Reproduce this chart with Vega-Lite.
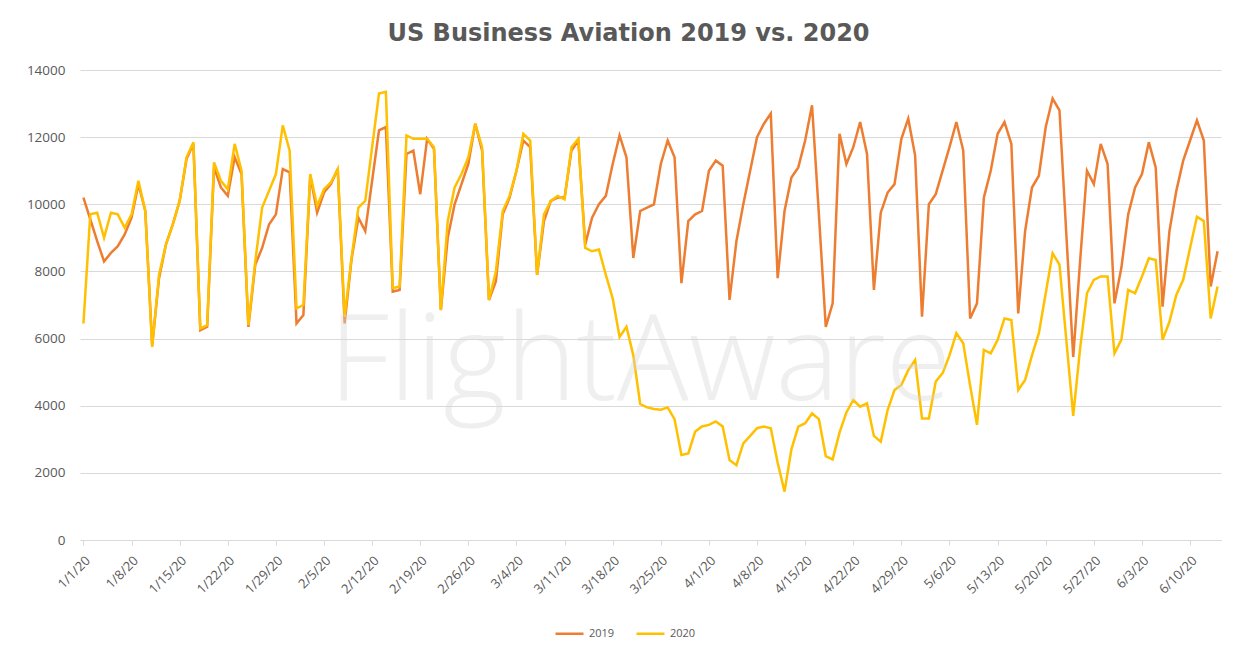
{
"$schema": "https://vega.github.io/schema/vega-lite/v6.json",
"width": 1141, "height": 470,
"autosize": {"type": "none"},
"padding": {"left": 80, "top": 70, "right": 13, "bottom": 115},
"background": "white",
"title": {"text": "US Business Aviation 2019 vs. 2020", "font": "DejaVu Sans", "fontSize": 24, "fontWeight": "bold", "color": "#595959", "anchor": "middle", "dx": -22, "offset": 17},
"config": {"view": {"stroke": null}, "font": "Open Sans"},
"layer": [
{"data": {"values": [
{"d":"2020-01-01","s":"2019","v":10200},{"d":"2020-01-02","s":"2019","v":9550},{"d":"2020-01-03","s":"2019","v":8900},{"d":"2020-01-04","s":"2019","v":8300},{"d":"2020-01-05","s":"2019","v":8550},{"d":"2020-01-06","s":"2019","v":8750},{"d":"2020-01-07","s":"2019","v":9100},{"d":"2020-01-08","s":"2019","v":9600},{"d":"2020-01-09","s":"2019","v":10600},{"d":"2020-01-10","s":"2019","v":9800},{"d":"2020-01-11","s":"2019","v":5800},{"d":"2020-01-12","s":"2019","v":7800},{"d":"2020-01-13","s":"2019","v":8800},{"d":"2020-01-14","s":"2019","v":9400},{"d":"2020-01-15","s":"2019","v":10100},{"d":"2020-01-16","s":"2019","v":11350},{"d":"2020-01-17","s":"2019","v":11800},{"d":"2020-01-18","s":"2019","v":6250},{"d":"2020-01-19","s":"2019","v":6350},{"d":"2020-01-20","s":"2019","v":11100},{"d":"2020-01-21","s":"2019","v":10500},{"d":"2020-01-22","s":"2019","v":10250},{"d":"2020-01-23","s":"2019","v":11400},{"d":"2020-01-24","s":"2019","v":10900},{"d":"2020-01-25","s":"2019","v":6350},{"d":"2020-01-26","s":"2019","v":8200},{"d":"2020-01-27","s":"2019","v":8700},{"d":"2020-01-28","s":"2019","v":9400},{"d":"2020-01-29","s":"2019","v":9700},{"d":"2020-01-30","s":"2019","v":11050},{"d":"2020-01-31","s":"2019","v":10950},
{"d":"2020-02-01","s":"2019","v":6450},{"d":"2020-02-02","s":"2019","v":6700},{"d":"2020-02-03","s":"2019","v":10850},{"d":"2020-02-04","s":"2019","v":9750},{"d":"2020-02-05","s":"2019","v":10350},{"d":"2020-02-06","s":"2019","v":10600},{"d":"2020-02-07","s":"2019","v":11050},{"d":"2020-02-08","s":"2019","v":6450},{"d":"2020-02-09","s":"2019","v":8350},{"d":"2020-02-10","s":"2019","v":9600},{"d":"2020-02-11","s":"2019","v":9200},{"d":"2020-02-12","s":"2019","v":10700},{"d":"2020-02-13","s":"2019","v":12200},{"d":"2020-02-14","s":"2019","v":12300},{"d":"2020-02-15","s":"2019","v":7400},{"d":"2020-02-16","s":"2019","v":7450},{"d":"2020-02-17","s":"2019","v":11500},{"d":"2020-02-18","s":"2019","v":11600},{"d":"2020-02-19","s":"2019","v":10300},{"d":"2020-02-20","s":"2019","v":11950},{"d":"2020-02-21","s":"2019","v":11650},{"d":"2020-02-22","s":"2019","v":6850},{"d":"2020-02-23","s":"2019","v":9000},{"d":"2020-02-24","s":"2019","v":10000},{"d":"2020-02-25","s":"2019","v":10600},{"d":"2020-02-26","s":"2019","v":11200},{"d":"2020-02-27","s":"2019","v":12400},{"d":"2020-02-28","s":"2019","v":11600},{"d":"2020-02-29","s":"2019","v":7150},
{"d":"2020-03-01","s":"2019","v":7700},{"d":"2020-03-02","s":"2019","v":9700},{"d":"2020-03-03","s":"2019","v":10200},{"d":"2020-03-04","s":"2019","v":11000},{"d":"2020-03-05","s":"2019","v":11900},{"d":"2020-03-06","s":"2019","v":11700},{"d":"2020-03-07","s":"2019","v":7900},{"d":"2020-03-08","s":"2019","v":9500},{"d":"2020-03-09","s":"2019","v":10100},{"d":"2020-03-10","s":"2019","v":10200},{"d":"2020-03-11","s":"2019","v":10200},{"d":"2020-03-12","s":"2019","v":11600},{"d":"2020-03-13","s":"2019","v":11900},{"d":"2020-03-14","s":"2019","v":8800},{"d":"2020-03-15","s":"2019","v":9600},{"d":"2020-03-16","s":"2019","v":10000},{"d":"2020-03-17","s":"2019","v":10250},{"d":"2020-03-18","s":"2019","v":11200},{"d":"2020-03-19","s":"2019","v":12050},{"d":"2020-03-20","s":"2019","v":11400},{"d":"2020-03-21","s":"2019","v":8400},{"d":"2020-03-22","s":"2019","v":9800},{"d":"2020-03-23","s":"2019","v":9900},{"d":"2020-03-24","s":"2019","v":10000},{"d":"2020-03-25","s":"2019","v":11200},{"d":"2020-03-26","s":"2019","v":11900},{"d":"2020-03-27","s":"2019","v":11400},{"d":"2020-03-28","s":"2019","v":7650},{"d":"2020-03-29","s":"2019","v":9500},{"d":"2020-03-30","s":"2019","v":9700},{"d":"2020-03-31","s":"2019","v":9800},
{"d":"2020-04-01","s":"2019","v":11000},{"d":"2020-04-02","s":"2019","v":11300},{"d":"2020-04-03","s":"2019","v":11150},{"d":"2020-04-04","s":"2019","v":7150},{"d":"2020-04-05","s":"2019","v":8900},{"d":"2020-04-06","s":"2019","v":10000},{"d":"2020-04-07","s":"2019","v":11000},{"d":"2020-04-08","s":"2019","v":12000},{"d":"2020-04-09","s":"2019","v":12400},{"d":"2020-04-10","s":"2019","v":12700},{"d":"2020-04-11","s":"2019","v":7800},{"d":"2020-04-12","s":"2019","v":9800},{"d":"2020-04-13","s":"2019","v":10800},{"d":"2020-04-14","s":"2019","v":11100},{"d":"2020-04-15","s":"2019","v":11900},{"d":"2020-04-16","s":"2019","v":12950},{"d":"2020-04-17","s":"2019","v":9700},{"d":"2020-04-18","s":"2019","v":6350},{"d":"2020-04-19","s":"2019","v":7050},{"d":"2020-04-20","s":"2019","v":12100},{"d":"2020-04-21","s":"2019","v":11200},{"d":"2020-04-22","s":"2019","v":11700},{"d":"2020-04-23","s":"2019","v":12450},{"d":"2020-04-24","s":"2019","v":11500},{"d":"2020-04-25","s":"2019","v":7450},{"d":"2020-04-26","s":"2019","v":9750},{"d":"2020-04-27","s":"2019","v":10350},{"d":"2020-04-28","s":"2019","v":10600},{"d":"2020-04-29","s":"2019","v":11950},{"d":"2020-04-30","s":"2019","v":12550},
{"d":"2020-05-01","s":"2019","v":11450},{"d":"2020-05-02","s":"2019","v":6650},{"d":"2020-05-03","s":"2019","v":10000},{"d":"2020-05-04","s":"2019","v":10300},{"d":"2020-05-05","s":"2019","v":11000},{"d":"2020-05-06","s":"2019","v":11700},{"d":"2020-05-07","s":"2019","v":12450},{"d":"2020-05-08","s":"2019","v":11600},{"d":"2020-05-09","s":"2019","v":6600},{"d":"2020-05-10","s":"2019","v":7050},{"d":"2020-05-11","s":"2019","v":10200},{"d":"2020-05-12","s":"2019","v":11000},{"d":"2020-05-13","s":"2019","v":12100},{"d":"2020-05-14","s":"2019","v":12450},{"d":"2020-05-15","s":"2019","v":11800},{"d":"2020-05-16","s":"2019","v":6750},{"d":"2020-05-17","s":"2019","v":9200},{"d":"2020-05-18","s":"2019","v":10500},{"d":"2020-05-19","s":"2019","v":10850},{"d":"2020-05-20","s":"2019","v":12300},{"d":"2020-05-21","s":"2019","v":13150},{"d":"2020-05-22","s":"2019","v":12800},{"d":"2020-05-23","s":"2019","v":9100},{"d":"2020-05-24","s":"2019","v":5450},{"d":"2020-05-25","s":"2019","v":8300},{"d":"2020-05-26","s":"2019","v":11000},{"d":"2020-05-27","s":"2019","v":10600},{"d":"2020-05-28","s":"2019","v":11800},{"d":"2020-05-29","s":"2019","v":11200},{"d":"2020-05-30","s":"2019","v":7050},{"d":"2020-05-31","s":"2019","v":8100},
{"d":"2020-06-01","s":"2019","v":9700},{"d":"2020-06-02","s":"2019","v":10500},{"d":"2020-06-03","s":"2019","v":10900},{"d":"2020-06-04","s":"2019","v":11850},{"d":"2020-06-05","s":"2019","v":11100},{"d":"2020-06-06","s":"2019","v":6950},{"d":"2020-06-07","s":"2019","v":9200},{"d":"2020-06-08","s":"2019","v":10400},{"d":"2020-06-09","s":"2019","v":11300},{"d":"2020-06-10","s":"2019","v":11900},{"d":"2020-06-11","s":"2019","v":12500},{"d":"2020-06-12","s":"2019","v":11900},{"d":"2020-06-13","s":"2019","v":7550},{"d":"2020-06-14","s":"2019","v":8600},
{"d":"2020-01-01","s":"2020","v":6450},{"d":"2020-01-02","s":"2020","v":9700},{"d":"2020-01-03","s":"2020","v":9750},{"d":"2020-01-04","s":"2020","v":9000},{"d":"2020-01-05","s":"2020","v":9750},{"d":"2020-01-06","s":"2020","v":9700},{"d":"2020-01-07","s":"2020","v":9300},{"d":"2020-01-08","s":"2020","v":9700},{"d":"2020-01-09","s":"2020","v":10700},{"d":"2020-01-10","s":"2020","v":9800},{"d":"2020-01-11","s":"2020","v":5750},{"d":"2020-01-12","s":"2020","v":7900},{"d":"2020-01-13","s":"2020","v":8800},{"d":"2020-01-14","s":"2020","v":9400},{"d":"2020-01-15","s":"2020","v":10100},{"d":"2020-01-16","s":"2020","v":11400},{"d":"2020-01-17","s":"2020","v":11850},{"d":"2020-01-18","s":"2020","v":6300},{"d":"2020-01-19","s":"2020","v":6400},{"d":"2020-01-20","s":"2020","v":11250},{"d":"2020-01-21","s":"2020","v":10700},{"d":"2020-01-22","s":"2020","v":10450},{"d":"2020-01-23","s":"2020","v":11800},{"d":"2020-01-24","s":"2020","v":11000},{"d":"2020-01-25","s":"2020","v":6400},{"d":"2020-01-26","s":"2020","v":8300},{"d":"2020-01-27","s":"2020","v":9900},{"d":"2020-01-28","s":"2020","v":10400},{"d":"2020-01-29","s":"2020","v":10900},{"d":"2020-01-30","s":"2020","v":12350},{"d":"2020-01-31","s":"2020","v":11600},
{"d":"2020-02-01","s":"2020","v":6900},{"d":"2020-02-02","s":"2020","v":7000},{"d":"2020-02-03","s":"2020","v":10900},{"d":"2020-02-04","s":"2020","v":9950},{"d":"2020-02-05","s":"2020","v":10450},{"d":"2020-02-06","s":"2020","v":10650},{"d":"2020-02-07","s":"2020","v":11050},{"d":"2020-02-08","s":"2020","v":6650},{"d":"2020-02-09","s":"2020","v":8400},{"d":"2020-02-10","s":"2020","v":9900},{"d":"2020-02-11","s":"2020","v":10100},{"d":"2020-02-12","s":"2020","v":11700},{"d":"2020-02-13","s":"2020","v":13300},{"d":"2020-02-14","s":"2020","v":13350},{"d":"2020-02-15","s":"2020","v":7500},{"d":"2020-02-16","s":"2020","v":7550},{"d":"2020-02-17","s":"2020","v":12050},{"d":"2020-02-18","s":"2020","v":11950},{"d":"2020-02-19","s":"2020","v":11950},{"d":"2020-02-20","s":"2020","v":11950},{"d":"2020-02-21","s":"2020","v":11700},{"d":"2020-02-22","s":"2020","v":6850},{"d":"2020-02-23","s":"2020","v":9500},{"d":"2020-02-24","s":"2020","v":10500},{"d":"2020-02-25","s":"2020","v":10900},{"d":"2020-02-26","s":"2020","v":11400},{"d":"2020-02-27","s":"2020","v":12400},{"d":"2020-02-28","s":"2020","v":11700},{"d":"2020-02-29","s":"2020","v":7150},
{"d":"2020-03-01","s":"2020","v":8000},{"d":"2020-03-02","s":"2020","v":9800},{"d":"2020-03-03","s":"2020","v":10250},{"d":"2020-03-04","s":"2020","v":11000},{"d":"2020-03-05","s":"2020","v":12100},{"d":"2020-03-06","s":"2020","v":11900},{"d":"2020-03-07","s":"2020","v":7900},{"d":"2020-03-08","s":"2020","v":9700},{"d":"2020-03-09","s":"2020","v":10100},{"d":"2020-03-10","s":"2020","v":10250},{"d":"2020-03-11","s":"2020","v":10150},{"d":"2020-03-12","s":"2020","v":11700},{"d":"2020-03-13","s":"2020","v":11950},{"d":"2020-03-14","s":"2020","v":8700},{"d":"2020-03-15","s":"2020","v":8600},{"d":"2020-03-16","s":"2020","v":8650},{"d":"2020-03-17","s":"2020","v":7900},{"d":"2020-03-18","s":"2020","v":7200},{"d":"2020-03-19","s":"2020","v":6050},{"d":"2020-03-20","s":"2020","v":6350},{"d":"2020-03-21","s":"2020","v":5500},{"d":"2020-03-22","s":"2020","v":4050},{"d":"2020-03-23","s":"2020","v":3950},{"d":"2020-03-24","s":"2020","v":3900},{"d":"2020-03-25","s":"2020","v":3880},{"d":"2020-03-26","s":"2020","v":3950},{"d":"2020-03-27","s":"2020","v":3600},{"d":"2020-03-28","s":"2020","v":2530},{"d":"2020-03-29","s":"2020","v":2580},{"d":"2020-03-30","s":"2020","v":3230},{"d":"2020-03-31","s":"2020","v":3380},
{"d":"2020-04-01","s":"2020","v":3430},{"d":"2020-04-02","s":"2020","v":3530},{"d":"2020-04-03","s":"2020","v":3380},{"d":"2020-04-04","s":"2020","v":2380},{"d":"2020-04-05","s":"2020","v":2230},{"d":"2020-04-06","s":"2020","v":2880},{"d":"2020-04-07","s":"2020","v":3100},{"d":"2020-04-08","s":"2020","v":3330},{"d":"2020-04-09","s":"2020","v":3380},{"d":"2020-04-10","s":"2020","v":3330},{"d":"2020-04-11","s":"2020","v":2300},{"d":"2020-04-12","s":"2020","v":1440},{"d":"2020-04-13","s":"2020","v":2700},{"d":"2020-04-14","s":"2020","v":3380},{"d":"2020-04-15","s":"2020","v":3480},{"d":"2020-04-16","s":"2020","v":3770},{"d":"2020-04-17","s":"2020","v":3600},{"d":"2020-04-18","s":"2020","v":2500},{"d":"2020-04-19","s":"2020","v":2400},{"d":"2020-04-20","s":"2020","v":3200},{"d":"2020-04-21","s":"2020","v":3800},{"d":"2020-04-22","s":"2020","v":4170},{"d":"2020-04-23","s":"2020","v":3970},{"d":"2020-04-24","s":"2020","v":4070},{"d":"2020-04-25","s":"2020","v":3100},{"d":"2020-04-26","s":"2020","v":2930},{"d":"2020-04-27","s":"2020","v":3870},{"d":"2020-04-28","s":"2020","v":4470},{"d":"2020-04-29","s":"2020","v":4620},{"d":"2020-04-30","s":"2020","v":5060},
{"d":"2020-05-01","s":"2020","v":5360},{"d":"2020-05-02","s":"2020","v":3620},{"d":"2020-05-03","s":"2020","v":3620},{"d":"2020-05-04","s":"2020","v":4720},{"d":"2020-05-05","s":"2020","v":4970},{"d":"2020-05-06","s":"2020","v":5500},{"d":"2020-05-07","s":"2020","v":6160},{"d":"2020-05-08","s":"2020","v":5860},{"d":"2020-05-09","s":"2020","v":4600},{"d":"2020-05-10","s":"2020","v":3430},{"d":"2020-05-11","s":"2020","v":5660},{"d":"2020-05-12","s":"2020","v":5560},{"d":"2020-05-13","s":"2020","v":5960},{"d":"2020-05-14","s":"2020","v":6600},{"d":"2020-05-15","s":"2020","v":6550},{"d":"2020-05-16","s":"2020","v":4470},{"d":"2020-05-17","s":"2020","v":4770},{"d":"2020-05-18","s":"2020","v":5500},{"d":"2020-05-19","s":"2020","v":6160},{"d":"2020-05-20","s":"2020","v":7350},{"d":"2020-05-21","s":"2020","v":8540},{"d":"2020-05-22","s":"2020","v":8200},{"d":"2020-05-23","s":"2020","v":5950},{"d":"2020-05-24","s":"2020","v":3700},{"d":"2020-05-25","s":"2020","v":5700},{"d":"2020-05-26","s":"2020","v":7350},{"d":"2020-05-27","s":"2020","v":7750},{"d":"2020-05-28","s":"2020","v":7850},{"d":"2020-05-29","s":"2020","v":7850},{"d":"2020-05-30","s":"2020","v":5560},{"d":"2020-05-31","s":"2020","v":5960},
{"d":"2020-06-01","s":"2020","v":7450},{"d":"2020-06-02","s":"2020","v":7350},{"d":"2020-06-03","s":"2020","v":7850},{"d":"2020-06-04","s":"2020","v":8390},{"d":"2020-06-05","s":"2020","v":8340},{"d":"2020-06-06","s":"2020","v":5960},{"d":"2020-06-07","s":"2020","v":6500},{"d":"2020-06-08","s":"2020","v":7300},{"d":"2020-06-09","s":"2020","v":7750},{"d":"2020-06-10","s":"2020","v":8700},{"d":"2020-06-11","s":"2020","v":9630},{"d":"2020-06-12","s":"2020","v":9500},{"d":"2020-06-13","s":"2020","v":6600},{"d":"2020-06-14","s":"2020","v":7550}
]},
 "mark": {"type": "line", "strokeWidth": 2.5},
 "encoding": {
  "x": {"field": "d", "type": "temporal",
   "scale": {"type": "utc", "domain": [{"year": 2019, "month": 12, "date": 31, "hours": 12, "utc": true}, {"year": 2020, "month": 6, "date": 14, "hours": 12, "utc": true}]},
   "axis": {"title": null, "format": "%-m/%-d/%y", "labelAngle": -45, "labelFont": "Open Sans", "labelFontSize": 13, "labelColor": "#595959", "grid": false, "domainColor": "#d9d9d9", "tickColor": "#d9d9d9", "tickSize": 5, "labelPadding": 9, "labelOverlap": false, "labelFlush": false,
    "values": [
     {"year":2020,"month":1,"date":1,"utc":true},{"year":2020,"month":1,"date":8,"utc":true},{"year":2020,"month":1,"date":15,"utc":true},{"year":2020,"month":1,"date":22,"utc":true},{"year":2020,"month":1,"date":29,"utc":true},
     {"year":2020,"month":2,"date":5,"utc":true},{"year":2020,"month":2,"date":12,"utc":true},{"year":2020,"month":2,"date":19,"utc":true},{"year":2020,"month":2,"date":26,"utc":true},
     {"year":2020,"month":3,"date":4,"utc":true},{"year":2020,"month":3,"date":11,"utc":true},{"year":2020,"month":3,"date":18,"utc":true},{"year":2020,"month":3,"date":25,"utc":true},
     {"year":2020,"month":4,"date":1,"utc":true},{"year":2020,"month":4,"date":8,"utc":true},{"year":2020,"month":4,"date":15,"utc":true},{"year":2020,"month":4,"date":22,"utc":true},{"year":2020,"month":4,"date":29,"utc":true},
     {"year":2020,"month":5,"date":6,"utc":true},{"year":2020,"month":5,"date":13,"utc":true},{"year":2020,"month":5,"date":20,"utc":true},{"year":2020,"month":5,"date":27,"utc":true},
     {"year":2020,"month":6,"date":3,"utc":true},{"year":2020,"month":6,"date":10,"utc":true}]}},
  "y": {"field": "v", "type": "quantitative", "scale": {"domain": [0, 14000]},
   "axis": {"title": null, "values": [0, 2000, 4000, 6000, 8000, 10000, 12000, 14000], "format": "d", "domain": false, "ticks": false, "labelPadding": 15, "labelFont": "Open Sans", "labelFontSize": 13.5, "labelColor": "#595959", "gridColor": "#d9d9d9", "gridWidth": 1}},
  "color": {"field": "s", "type": "nominal", "scale": {"domain": ["2019", "2020"], "range": ["#ED7D31", "#FFC000"]},
   "legend": {"title": null, "orient": "none", "legendX": 474, "legendY": 548, "direction": "horizontal", "symbolType": "stroke", "symbolStrokeWidth": 2.5, "symbolSize": 784, "labelFont": "Open Sans", "labelFontSize": 11, "labelColor": "#595959", "columnPadding": 16, "labelOffset": 4}}
 }},
{"data": {"values": [{"label": "FlightAware"}]},
 "mark": {"type": "text", "font": "Open Sans", "fontSize": 120, "fontWeight": 300, "color": "#d8d8d8", "opacity": 0.4, "align": "center", "baseline": "alphabetic"},
 "encoding": {
  "x": {"datum": {"year": 2020, "month": 3, "date": 22, "utc": true}, "type": "temporal"},
  "y": {"datum": 4170, "type": "quantitative"},
  "text": {"field": "label"}}}
]
}
